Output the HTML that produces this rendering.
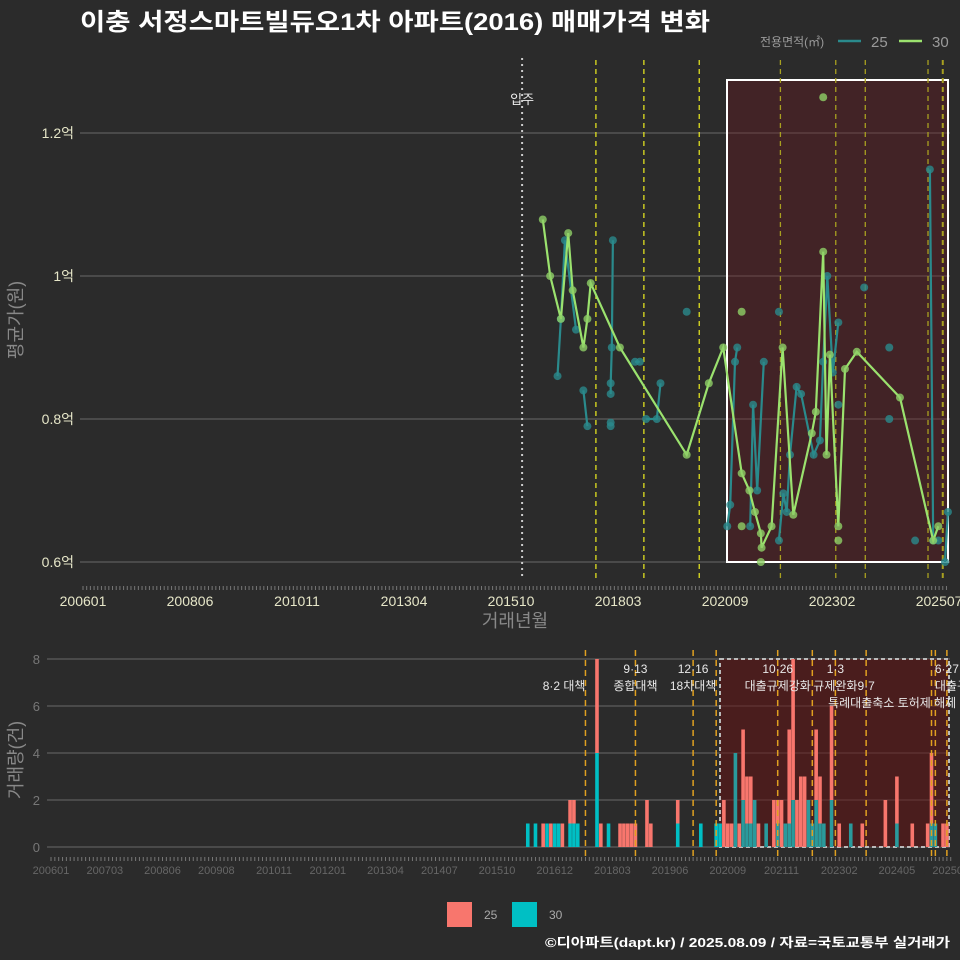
<!DOCTYPE html>
<html><head><meta charset="utf-8">
<style>
html,body{margin:0;padding:0;background:#2b2b2b;}
svg{display:block;font-family:"Liberation Sans","Noto Sans CJK KR",sans-serif;}
</style></head>
<body>
<svg id="c" width="960" height="960" viewBox="0 0 960 960" xmlns="http://www.w3.org/2000/svg">
<rect width="960" height="960" fill="#2b2b2b"/>
<text x="80" y="30" font-size="24" font-weight="bold" fill="#ffffff" textLength="630" lengthAdjust="spacingAndGlyphs">이충 서정스마트빌듀오1차 아파트(2016) 매매가격 변화</text>
<text x="760" y="46" font-size="12" fill="#9a9a9a">전용면적(㎡)</text>
<line x1="838" y1="41" x2="861" y2="41" stroke="#2a8a8c" stroke-width="2.5"/>
<text x="871" y="47" font-size="15" fill="#9a9a9a">25</text>
<line x1="899" y1="41" x2="922" y2="41" stroke="#9be26e" stroke-width="2.5"/>
<text x="932" y="47" font-size="15" fill="#9a9a9a">30</text>
<g id="top"></g>
<g id="bot"></g>
<text x="515" y="627" font-size="18" fill="#888" text-anchor="middle">거래년월</text>
<text transform="translate(22,320) rotate(-90)" font-size="18" fill="#888" text-anchor="middle">평균가(원)</text>
<text transform="translate(22,760) rotate(-90)" font-size="18" fill="#888" text-anchor="middle">거래량(건)</text>
<rect x="447" y="902" width="25" height="25" fill="#F8766D"/>
<text x="484" y="919" font-size="12" fill="#aaa">25</text>
<rect x="512" y="902" width="25" height="25" fill="#00BFC4"/>
<text x="549" y="919" font-size="12" fill="#aaa">30</text>
<text x="545" y="947" font-size="13" font-weight="bold" fill="#ffffff" textLength="405" lengthAdjust="spacingAndGlyphs">©디아파트(dapt.kr) / 2025.08.09 / 자료=국토교통부 실거래가</text>
</svg>
<script>
// ---- data (month index from 2006-01; prices in 만원) ----
const xTickLabels = ["200601","200806","201011","201304","201510","201803","202009","202302","202507"];
const xTickMonths = [0,29,58,87,116,145,174,203,232];
const yTickValues = [6000,8000,10000,12000];
const yTickLabels = ["0.6억","0.8억","1억","1.2억"];
const s30Months = [124.6,126.6,129.5,131.5,132.7,135.6,136.7,137.6,145.5,163.6,169.6,173.5,178.5,180.6,182.1,183.7,183.9,186.6,189.6,192.5,197.5,198.6,200.6,201.5,202.4,204.7,206.5,209.7,221.4,230.4,231.8];
const s30Values = [10790,10000,9400,10600,9800,9000,9400,9900,9000,7500,8500,9000,7240,7000,6700,6400,6200,6500,9000,6660,7800,8100,10340,7500,8900,6500,8700,8940,8300,6300,6500];
const s30DotMonths = [178.5,183.7,200.6,178.5,204.7];
const s30DotValues = [9500,6000,12500,6500,6300];
const s25Months = [128.6,129.5,130.6,133.6,null,135.6,136.7,null,143,143,143.3,143.6,null,149.6,150.9,null,152.6,155.5,156.5,null,174.6,175.4,176.7,177.3,null,180.8,181.6,182.7,184.5,null,188.6,189.8,190.7,191.6,193.4,194.6,198,199.7,200.6,201.7,203.2,204.7,null,225.5,null,229.5,230.4,231.8,null,233.6,234.4];
const s25Values = [8600,9400,10500,9250,null,8400,7900,null,8350,8500,9000,10500,null,8800,8800,null,8000,8000,8500,null,6500,6800,8800,9000,null,6500,8200,7000,8800,null,6300,6960,6700,7500,8450,8350,7500,7700,8800,10000,8650,9350,null,6300,null,11490,6300,6300,null,6000,6700];
const s25DotMonths = [143,143,163.6,188.6,211.7,218.5,218.5,204.7];
const s25DotValues = [7900,7950,9500,9500,9840,9000,8000,8200];
const barMonths = [124,126,128,129,130,131,132,133,135,136,137,142,143,145,148,149,150,151,152,155,156,163,169,173,174,175,176,177,178,179,180,181,182,183,184,186,188,189,190,191,192,193,194,195,196,197,198,199,200,201,203,205,208,211,217,220,224,228,229,230,232,233];
const bar25 = [0,0,1,0,1,0,0,1,1,1,0,4,1,0,1,1,1,1,1,2,1,1,0,0,0,2,1,1,0,1,3,2,2,0,1,0,2,1,2,0,4,6,2,3,3,0,0,3,2,0,4,1,0,1,2,2,1,1,3,0,1,1];
const bar30 = [1,1,0,1,0,1,1,0,1,1,1,4,0,1,0,0,0,0,0,0,0,1,1,1,1,0,0,0,4,0,2,1,1,2,0,1,0,1,0,1,1,2,0,0,0,2,1,2,1,1,2,0,1,0,0,1,0,0,1,1,0,0];
const volTicks = [0,2,4,6,8];
const botTickLabels = ["200601","200703","200806","200908","201011","201201","201304","201407","201510","201612","201803","201906","202009","202111","202302","202405","202507"];
const botTickMonths = [0,14,29,43,58,72,87,101,116,131,146,161,176,190,205,220,234];
const policyMonths = [139,152,167,173,189,198,204,212,229,230,233];
const annoText = ["8·2 대책","9·13","종합대책","12·16","18차대책","10·26","대출규제강화","1·3","규제완화","9·7","특례대출축소 토허제 해제","6·27","대출규"];
const annoMonth = [139,152,152,167,167,189,189,204,204,212,212,233,233];
const annoRow = [1,0,1,0,1,0,1,0,1,1,2,0,1];

const NS="http://www.w3.org/2000/svg";
function mk(parent,tag,attrs,text){const e=document.createElementNS(NS,tag);for(const k in attrs)e.setAttribute(k,attrs[k]);if(text!==undefined)e.textContent=text;parent.appendChild(e);return e;}

// ---- top panel ----
const T=document.getElementById('top');
const tx=m=>83+m*3.69;
const ty=v=>562-(v-6000)*0.0715;
yTickValues.forEach((v,i)=>{
  const g=mk(T,'line',{x1:80,x2:950,y1:ty(v),y2:ty(v),stroke:'#6a6a6a','stroke-width':1});
  
  
  const t=mk(T,'text',{x:74,y:ty(v)+5,'font-size':14,fill:'#e6e6c8','text-anchor':'end'},yTickLabels[i]);
  
  
});
for(let m=0;m<=234;m++){
  const l=mk(T,'line',{x1:tx(m),x2:tx(m),y1:586,y2:590,stroke:'#777','stroke-width':1});
  
  
}
xTickLabels.forEach((s,i)=>{
  const t=mk(T,'text',{x:tx(xTickMonths[i]),y:606,'font-size':14,fill:'#e6e6c8','text-anchor':'middle'},s);
  
  
});
const hb=mk(T,'rect',{x:727,y:80,width:221,height:482,fill:'rgba(110,20,30,0.35)',stroke:'#ffffff','stroke-width':2});


const mi=mk(T,'line',{x1:tx(119),x2:tx(119),y1:58,y2:580,stroke:'#cccccc','stroke-width':2,'stroke-dasharray':'2,4'});


const mt=mk(T,'text',{x:tx(119),y:104,'font-size':13,fill:'#eee','text-anchor':'middle'},'입주');


const topPol=[139,152,167,189,204,212,229,233];
topPol.forEach(m=>{
  const l=mk(T,'line',{x1:tx(m),x2:tx(m),y1:60,y2:580,stroke:m>175?'#a8a020':'#e0e020','stroke-width':m==233?2:1.3,'stroke-dasharray':'5,4'});
  
  
});
function drawSeries(months,values,color,name){
  let d='',pen=false;
  months.forEach((m,i)=>{
    if(m===null){pen=false;return;}
    d+=(pen?'L':'M')+tx(m).toFixed(1)+','+ty(values[i]).toFixed(1);pen=true;
  });
  const p=mk(T,'path',{d:d,fill:'none',stroke:color,'stroke-width':2.2});
  
  
}
function drawDots(months,values,color,name){
  months.forEach((m,i)=>{
    if(m===null)return;
    const c=mk(T,'circle',{cx:tx(m),cy:ty(values[i]),r:4,fill:color,opacity:0.8});
    
    
  });
}
drawSeries(s25Months,s25Values,'#2a8a8c','series-25');
drawDots(s25Months,s25Values,'#2a8a8c','series-25');
drawDots(s25DotMonths,s25DotValues,'#2a8a8c','series-25');
drawSeries(s30Months,s30Values,'#9be26e','series-30');
drawDots(s30Months,s30Values,'#8fcf66','series-30');
drawDots(s30DotMonths,s30DotValues,'#8fcf66','series-30');

// ---- bottom panel ----
const B=document.getElementById('bot');
const bx=m=>51+m*3.845;
const by=v=>847-v*23.5;
volTicks.forEach(v=>{
  const g=mk(B,'line',{x1:47,x2:950,y1:by(v),y2:by(v),stroke:'#6a6a6a','stroke-width':1});
  
  
  const t=mk(B,'text',{x:40,y:by(v)+5,'font-size':13,fill:'#777','text-anchor':'end'},String(v));
  
  
});
const vb=mk(B,'rect',{x:720,y:659,width:229,height:188,fill:'rgba(100,18,18,0.55)',stroke:'#bbbbbb','stroke-width':2,'stroke-dasharray':'4,3'});


barMonths.forEach((m,i)=>{
  const w=3.6,x=bx(m)-w/2;
  if(bar30[i]>0){
    const r=mk(B,'rect',{x:x,y:by(bar30[i]),width:w,height:bar30[i]*23.5,fill:m>174?'#2a9a9c':'#00BFC4'});
    
    
  }
  if(bar25[i]>0){
    const r=mk(B,'rect',{x:x,y:by(bar30[i]+bar25[i]),width:w,height:bar25[i]*23.5,fill:'#F8766D'});
    
    
  }
});
policyMonths.forEach(m=>{
  const l=mk(B,'line',{x1:bx(m),x2:bx(m),y1:650,y2:858,stroke:'#e0a020','stroke-width':1.5,'stroke-dasharray':'6,4'});
  
  
});
annoText.forEach((s,i)=>{
  const t=mk(B,'text',{x:bx(annoMonth[i]),y:673+annoRow[i]*17,'font-size':12,fill:'#e8e8e8','text-anchor':i==0?'end':(i>=11?'start':'middle')},s);
  if(i>=11)t.setAttribute('x',bx(annoMonth[i])-12);
  if(i==10)t.setAttribute('x',bx(annoMonth[i])+26);
  
  
});
for(let m=0;m<=234;m++){
  const l=mk(B,'line',{x1:bx(m),x2:bx(m),y1:857,y2:861,stroke:'#777','stroke-width':1});
  
  
}
botTickLabels.forEach((s,i)=>{
  const t=mk(B,'text',{x:bx(botTickMonths[i]),y:874,'font-size':11,fill:'#666','text-anchor':'middle'},s);
  
  
});
</script>
</body></html>
